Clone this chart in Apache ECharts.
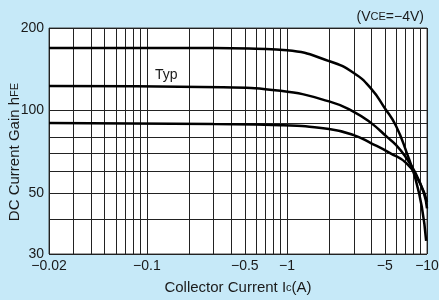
<!DOCTYPE html>
<html>
<head>
<meta charset="utf-8">
<script src="https://cdn.jsdelivr.net/npm/echarts@6/dist/echarts.min.js"></script>
<style>
  html, body { margin: 0; padding: 0; background: #c6e9f8; }
  #chart { width: 439px; height: 300px; }
</style>
</head>
<body>
<div id="chart"></div>
<script>
// collector current (A, shown negative) / hFE
const xLabelValues = [0.02, 0.1, 0.5, 1, 5, 10]
const xGridValues = [0.02, 0.03, 0.04, 0.05, 0.06, 0.07, 0.08, 0.09, 0.1,
  0.2, 0.3, 0.4, 0.5, 0.6, 0.7, 0.8, 0.9, 1, 2, 3, 4, 5, 6, 7, 8, 9, 10]
const yLabelValues = [30, 50, 100, 200]
const yGridValues = [30, 40, 50, 60, 70, 80, 90, 100, 200]

const curveHigh = [[0.02, 169], [0.3, 169], [0.6, 168], [1, 166], [2, 151.5], [3, 137],
  [4, 120], [5, 102], [6, 88], [7.18, 70], [8.22, 57], [9.18, 44.6], [9.86, 33.5]]
const curveTyp = [[0.02, 123], [0.35, 121.5], [0.9, 118], [2, 108], [3, 99], [4, 90],
  [5.2, 80], [6, 75], [7, 68], [8.3, 59], [9.5, 50], [10, 44]]
const curveLow = [[0.02, 90], [0.3, 89.3], [0.9, 88.5], [2, 85.6], [3, 81.4], [4, 76],
  [5.45, 70], [7.18, 64], [8.93, 54.2], [10, 46.5]]

const font = 'Liberation Sans, Arial, sans-serif'
const ink = '#1a1a1a'

const chart = echarts.init(document.getElementById('chart'), null, { renderer: 'canvas' })

function curve(data) {
  return {
    type: 'line',
    data: data,
    showSymbol: false,
    smooth: 0.5,
    lineStyle: { color: '#000', width: 2.5 },
    silent: true,
    animation: false
  }
}

chart.setOption({
  backgroundColor: '#c6e9f8',
  textStyle: { fontFamily: font },
  grid: {
    left: 49, right: 12, top: 28, bottom: 46,
    containLabel: false,
    outerBoundsMode: 'none',
    show: true, backgroundColor: '#fff', borderColor: '#444', borderWidth: 1
  },
  xAxis: {
    type: 'log',
    logBase: 10,
    min: 0.02,
    max: 10,
    name: '{a|Collector Current I}{b|c}{a|(A)}',
    nameLocation: 'middle',
    nameGap: 26,
    nameMoveOverlap: false,
    nameTextStyle: {
      rich: {
        a: { fontSize: 15, color: ink, fontFamily: font },
        b: { fontSize: 11, color: ink, fontFamily: font }
      }
    },
    axisLine: { show: false },
    axisTick: { show: false, customValues: xGridValues },
    axisLabel: {
      customValues: xLabelValues,
      fontSize: 14,
      color: ink,
      margin: 5,
      formatter: v => '\u2212' + v
    },
    splitLine: { show: true, lineStyle: { color: '#222', width: 1 } }
  },
  yAxis: {
    type: 'log',
    logBase: 10,
    min: 30,
    max: 200,
    name: '{a|DC Current Gain h}{b|FE}',
    nameLocation: 'middle',
    nameGap: 27,
    nameMoveOverlap: false,
    nameTextStyle: {
      padding: [0, 22, 0, 0],
      rich: {
        a: { fontSize: 15, color: ink, fontFamily: font },
        b: { fontSize: 11, color: ink, fontFamily: font }
      }
    },
    axisLine: { show: false },
    axisTick: { show: false, customValues: yGridValues },
    axisLabel: {
      customValues: yLabelValues,
      fontSize: 14,
      color: ink,
      margin: 5
    },
    splitLine: { show: true, lineStyle: { color: '#222', width: 1 } }
  },
  graphic: [
    {
      type: 'text',
      left: 155,
      top: 68,
      style: { text: 'Typ', font: '14px ' + font, fill: ink }
    },
    {
      type: 'text',
      right: 15,
      top: 10,
      style: {
        text: '{a|(V}{b|CE}{a|=\u22124V)}',
        rich: {
          a: { fontSize: 14, fill: ink, fontFamily: font },
          b: { fontSize: 11, fill: ink, fontFamily: font }
        }
      }
    }
  ],
  series: [curve(curveHigh), curve(curveTyp), curve(curveLow)]
})
</script>
</body>
</html>
